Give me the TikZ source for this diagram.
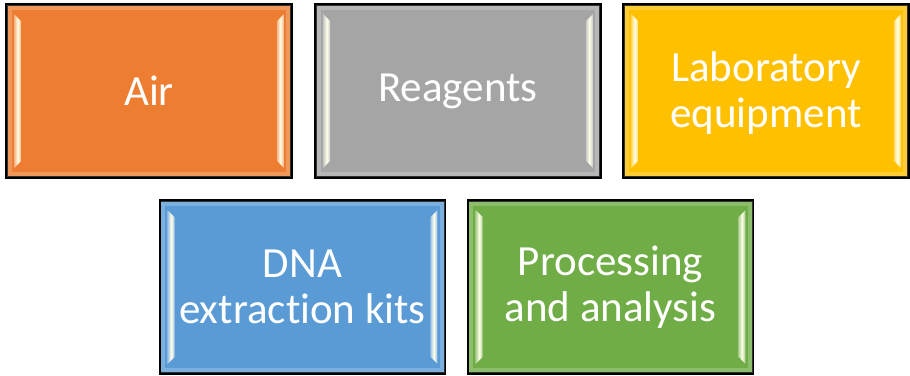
\documentclass[tikz,border=0pt]{standalone}
\usepackage{fontspec}
\setmainfont{Carlito}[Ligatures={NoCommon}]
\usetikzlibrary{calc}

\definecolor{cOrange}{HTML}{ED7D31}
\definecolor{cGray}{HTML}{A5A5A5}
\definecolor{cGold}{HTML}{FFC000}
\definecolor{cBlue}{HTML}{5B9BD5}
\definecolor{cGreen}{HTML}{70AD47}

\tikzset{
  tile/.style={draw=black, line width=1.6pt, minimum width=284bp, minimum height=172bp,
    inner sep=0pt, align=center, text=white,
    font=\fontsize{43bp}{46bp}\selectfont},
}

% glossy bevel strips inside a tile
\newcommand{\bevel}[2]{%
  \begin{scope}
    \clip (#1.south west) rectangle (#1.north east);
    % soft light frame along the inner edge
    \draw[white, opacity=0.2, line width=5bp]
      ($(#1.south west)+(3bp,3bp)$) rectangle ($(#1.north east)+(-3bp,-3bp)$);
    % left highlight strip
    \shade[left color=#2!60!white, right color=#2!60!white, middle color=white!90!yellow]
      ($(#1.north west)+(8bp,-10bp)$) -- ($(#1.north west)+(15bp,-17bp)$)
      -- ($(#1.south west)+(15bp,17bp)$) -- ($(#1.south west)+(8bp,10bp)$) -- cycle;
    % right highlight strip
    \shade[left color=#2!60!white, right color=#2!60!white, middle color=white!90!yellow]
      ($(#1.north east)+(-8bp,-10bp)$) -- ($(#1.north east)+(-15bp,-17bp)$)
      -- ($(#1.south east)+(-15bp,17bp)$) -- ($(#1.south east)+(-8bp,10bp)$) -- cycle;
  \end{scope}
  \draw[black, line width=1.6pt] (#1.south west) rectangle (#1.north east);
}

\begin{document}
\begin{tikzpicture}[x=1bp, y=1bp]
  \useasboundingbox (0,0) rectangle (910,375);

  \node[tile, fill=cOrange] (air) at (149,284) {};
  \node[tile, fill=cGray]   (rea) at (458,284) {};
  \node[tile, fill=cGold]   (lab) at (766,284) {};
  \node[tile, fill=cBlue]   (dna) at (302.5,88) {};
  \node[tile, fill=cGreen]  (pro) at (610.5,88) {};

  \bevel{air}{cOrange}
  \bevel{rea}{cGray}
  \bevel{lab}{cGold}
  \bevel{dna}{cBlue}
  \bevel{pro}{cGreen}

  \node[tile, draw=none] at (air) {Air};
  \node[tile, draw=none] at (rea) {Reagents};
  \node[tile, draw=none] at ($(lab)+(0,-2)$) {Laboratory\\equipment};
  \node[tile, draw=none] at (dna) {DNA\\extraction kits};
  \node[tile, draw=none] at (pro) {Processing\\and analysis};
\end{tikzpicture}
\end{document}
